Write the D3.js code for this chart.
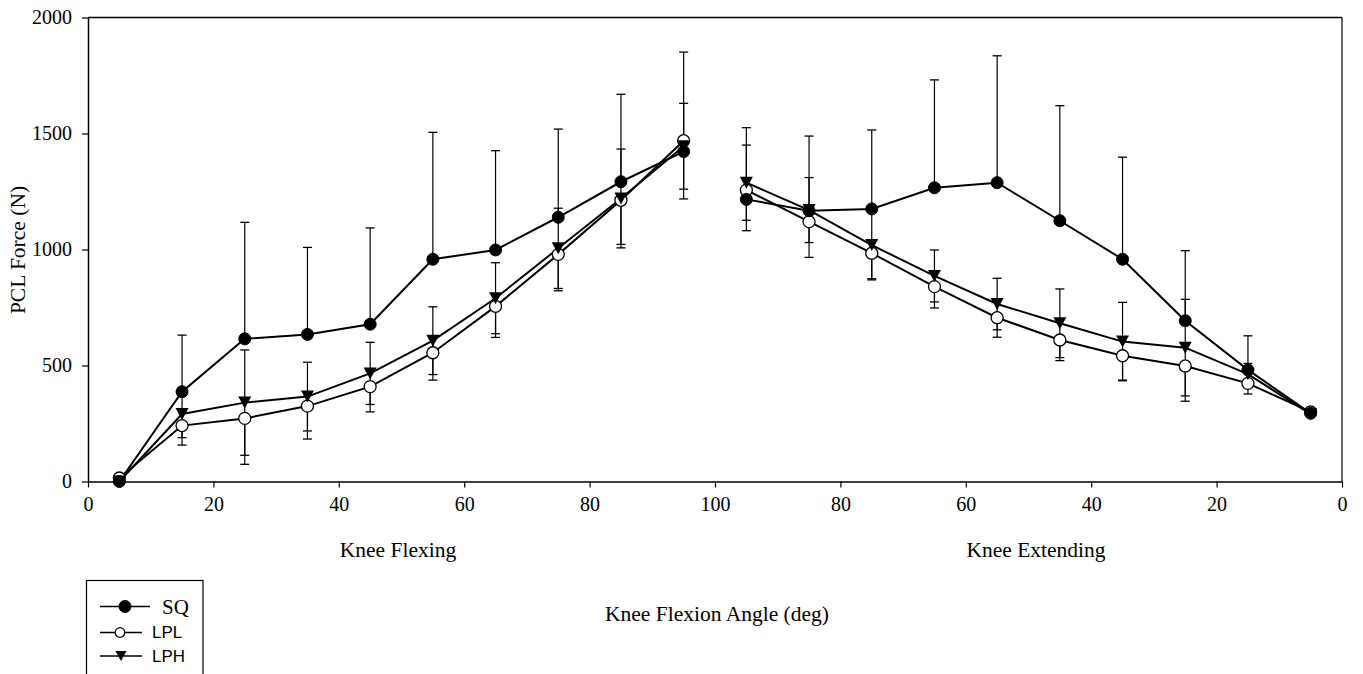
<!DOCTYPE html>
<html><head><meta charset="utf-8">
<script src="https://cdn.jsdelivr.net/npm/d3@7"></script>
<style>
html,body{margin:0;padding:0;background:#fff;}
</style></head>
<body>
<svg id="chart" width="1363" height="674"></svg>
<script>
// ---- data ----
const flexAngles = [5,15,25,35,45,55,65,75,85,95];
const extAngles  = [95,85,75,65,55,45,35,25,15,5];
const sqFlex  = [0,387,615,634,678,958,998,1139,1292,1422];
const sqExt   = [1216,1167,1175,1266,1288,1124,958,693,481,294];
const lplFlex = [15,241,272,325,409,555,755,979,1212,1469];
const lplExt  = [1256,1120,984,840,706,610,542,498,423,300];
const lphFlex = [0,291,340,366,466,607,790,1005,1220,1445];
const lphExt  = [1288,1170,1019,886,765,682,603,577,463,290];
// standard deviations (SQ drawn upward, LPL downward, LPH both ways)
const sqSDFlex  = [0,244,502,375,415,547,428,380,377,429];
const sqSDExt   = [309,322,340,465,547,496,440,302,147,0];
const lplSDFlex = [0,84,198,142,109,118,134,157,190,251];
const lplSDExt  = [175,154,110,92,84,89,105,152,46,0];
const lphSDFlex = [0,102,227,148,134,146,153,173,213,185];
const lphSDExt  = [162,140,150,112,111,148,169,208,46,0];
const xTickValues = [0,20,40,60,80,100,120,140,160,180,200];
const yTickValues = [0,500,1000,1500,2000];
const seriesNames = ["SQ","LPL","LPH"];

const SERIF = "Liberation Serif, Times New Roman, serif";
const SANS = "Liberation Sans, Arial, sans-serif";

// ---- layout ----
const svg = d3.select("#chart");
const x = d3.scaleLinear().domain([0,200]).range([88,1342]);
const y = d3.scaleLinear().domain([0,2000]).range([481.5,17.5]);
const pos = (a, ext) => ext ? 200 - a : a;

function build(flexV, extV, flexSD, extSD){
  return {
    flex: flexAngles.map((a,i)=>({p:pos(a,false), v:flexV[i], sd:flexSD[i]})),
    ext:  extAngles.map((a,i)=>({p:pos(a,true),  v:extV[i],  sd:extSD[i]}))
  };
}
const series = {
  SQ:  build(sqFlex, sqExt, sqSDFlex, sqSDExt),
  LPL: build(lplFlex, lplExt, lplSDFlex, lplSDExt),
  LPH: build(lphFlex, lphExt, lphSDFlex, lphSDExt)
};
const errDir = {SQ:"up", LPL:"down", LPH:"both"};

// frame
svg.append("line").attr("x1",x(0)).attr("x2",x(200)).attr("y1",y(2000)).attr("y2",y(2000)).attr("stroke","#000").attr("stroke-width",1.5);
svg.append("line").attr("x1",x(200)).attr("x2",x(200)).attr("y1",y(2000)).attr("y2",y(0)).attr("stroke","#000").attr("stroke-width",1.2);

// axes
const xAxis = d3.axisBottom(x).tickValues(xTickValues).tickSize(6).tickSizeOuter(0).tickPadding(9)
  .tickFormat(d => d <= 100 ? d : 200 - d);
const gx = svg.append("g").attr("transform",`translate(0,${y(0)})`).call(xAxis);
const yAxis = d3.axisLeft(y).tickValues(yTickValues).tickSize(6).tickSizeOuter(0).tickPadding(10)
  .tickFormat(d3.format("d"));
const gy = svg.append("g").attr("transform",`translate(${x(0)},0)`).call(yAxis);
[gx,gy].forEach(g=>{
  g.attr("font-family",SERIF).attr("font-size",20);
  g.select(".domain").attr("stroke","#000").attr("stroke-width",1.5);
  g.selectAll(".tick line").attr("stroke","#000").attr("stroke-width",1.2);
  g.selectAll(".tick text").attr("fill","#000");
});

// error bars
const capW = 9;
seriesNames.forEach(name=>{
  const s = series[name];
  const pts = s.flex.concat(s.ext).filter(d=>d.sd>0);
  const dir = errDir[name];
  const g = svg.append("g");
  pts.forEach(d=>{
    const hi = dir==="down" ? d.v : d.v + d.sd;
    const lo = dir==="up" ? d.v : d.v - d.sd;
    g.append("line").attr("x1",x(d.p)).attr("x2",x(d.p)).attr("y1",y(hi)).attr("y2",y(lo)).attr("stroke","#000").attr("stroke-width",1.2);
    if(dir!=="down") g.append("line").attr("x1",x(d.p)-capW/2).attr("x2",x(d.p)+capW/2).attr("y1",y(hi)).attr("y2",y(hi)).attr("stroke","#000").attr("stroke-width",1.3);
    if(dir!=="up") g.append("line").attr("x1",x(d.p)-capW/2).attr("x2",x(d.p)+capW/2).attr("y1",y(lo)).attr("y2",y(lo)).attr("stroke","#000").attr("stroke-width",1.3);
  });
});

// lines
const line = d3.line().x(d=>x(d.p)).y(d=>y(d.v));
["LPL","LPH","SQ"].forEach(name=>{
  const s = series[name];
  [s.flex, s.ext].forEach(seg=>{
    svg.append("path").datum(seg).attr("d",line).attr("fill","none").attr("stroke","#000").attr("stroke-width",2);
  });
});

// markers
const triDown = (cx,cy,w,h)=>`M${cx-w/2},${cy-h/2}L${cx+w/2},${cy-h/2}L${cx},${cy+h/2}Z`;
function marker(g,name,cx,cy,scale){
  scale = scale||1;
  if(name==="SQ") g.append("circle").attr("cx",cx).attr("cy",cy).attr("r",6*scale).attr("fill","#000").attr("stroke","#000");
  else if(name==="LPL") g.append("circle").attr("cx",cx).attr("cy",cy).attr("r",6*scale).attr("fill","#fff").attr("stroke","#000").attr("stroke-width",1.3);
  else g.append("path").attr("d",triDown(cx,cy,13*scale,12*scale)).attr("fill","#000");
}
const mg = svg.append("g");
["LPL","LPH","SQ"].forEach(name=>{
  const s = series[name];
  s.flex.concat(s.ext).forEach(d=> marker(mg,name,x(d.p),y(d.v)));
});

// axis titles
const title = (tx,ty,txt,rot)=>{
  const t = svg.append("text").attr("text-anchor","middle").attr("font-family",SERIF).attr("font-size",21.5).attr("fill","#000").text(txt);
  if(rot) t.attr("transform",`translate(${tx},${ty}) rotate(-90)`); else t.attr("x",tx).attr("y",ty);
};
title(25,250,"PCL Force (N)",true);
title(398,557,"Knee Flexing");
title(1036,557,"Knee Extending");
title(717,621,"Knee Flexion Angle (deg)");

// legend
const lg = svg.append("g");
lg.append("rect").attr("x",86.5).attr("y",580.5).attr("width",116.5).attr("height",120).attr("fill","none").attr("stroke","#000").attr("stroke-width",1.2);
const legRows = [
  {name:"SQ", y:606.5, x2:150, mx:125, tx:162, font:SERIF, fs:21, sc:1},
  {name:"LPL", y:632.5, x2:142, mx:120, tx:152, font:SANS, fs:17, sc:0.8},
  {name:"LPH", y:656, x2:142, mx:121, tx:152, font:SANS, fs:17, sc:0.85}
];
legRows.forEach(r=>{
  lg.append("line").attr("x1",100).attr("x2",r.x2).attr("y1",r.y).attr("y2",r.y).attr("stroke","#000").attr("stroke-width",1.5);
  marker(lg,r.name,r.mx,r.y,r.sc);
  lg.append("text").attr("x",r.tx).attr("y",r.y).attr("dy","0.35em").attr("font-family",r.font).attr("font-size",r.fs).attr("fill","#000").text(r.name);
});
</script>
</body></html>
